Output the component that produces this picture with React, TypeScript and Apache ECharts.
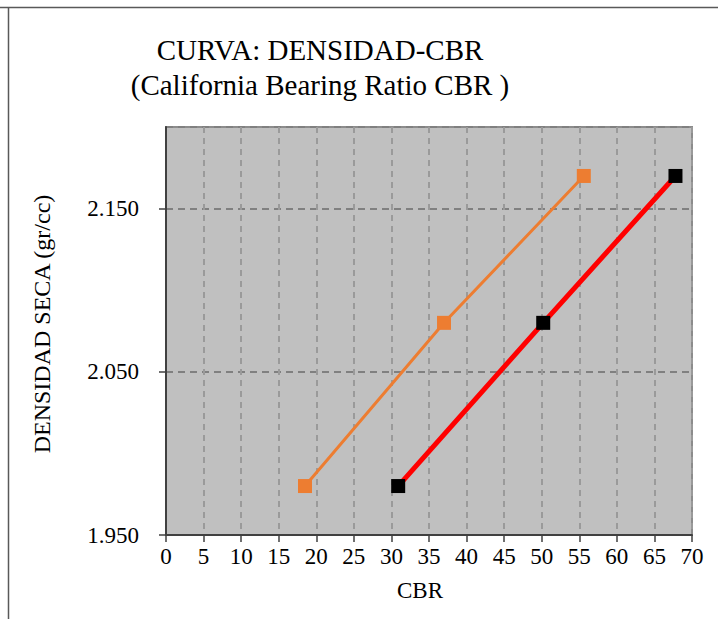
import React, { useEffect, useRef } from "react";
import * as echarts from "echarts";

const titleLine1 = "CURVA: DENSIDAD-CBR";
const titleLine2 = "(California Bearing Ratio CBR )";
const xName = "CBR";
const yName = "DENSIDAD SECA (gr/cc)";

const seriesA_cbr = [18.5, 37.0, 55.6];
const seriesA_dens = [1.98, 2.08, 2.17];
const seriesB_cbr = [30.9, 50.2, 67.8];
const seriesB_dens = [1.98, 2.08, 2.17];

const xMin = 0;
const xMax = 70;
const xStep = 5;
const yMin = 1.95;
const yMax = 2.2;
const yStep = 0.1;

export default function App() {
  const ref = useRef<HTMLDivElement>(null);
  useEffect(() => {
    if (!ref.current) return;
    const chart = echarts.init(ref.current, null, { renderer: "svg" });
    const font = "Liberation Serif";
    chart.setOption({
      animation: false,
      backgroundColor: "#ffffff",
      textStyle: { fontFamily: font },
      title: [
        {
          text: titleLine1 + "\n" + titleLine2,
          left: 315,
          top: 27,
          textAlign: "center",
          textStyle: {
            fontFamily: font,
            fontSize: 29,
            fontWeight: "normal",
            color: "#000",
            lineHeight: 35,
          },
        },
      ],
      graphic: [
        {
          type: "line",
          shape: { x1: 0, y1: 7.5, x2: 718, y2: 7.5 },
          style: { stroke: "#595959", lineWidth: 1.5 },
        },
        {
          type: "line",
          shape: { x1: 8.5, y1: 7.5, x2: 8.5, y2: 619 },
          style: { stroke: "#595959", lineWidth: 1.5 },
        },
      ],
      grid: {
        left: 166,
        top: 127,
        right: 26,
        bottom: 84,
        show: true,
        backgroundColor: "#c0c0c0",
        borderColor: "#8c8c8c",
        borderWidth: 2,
      },
      xAxis: {
        type: "value",
        min: xMin,
        max: xMax,
        interval: xStep,
        name: xName,
        nameLocation: "middle",
        nameGap: 44,
        nameTextStyle: {
          fontFamily: font,
          fontSize: 23,
          color: "#000",
          padding: [0, 18, 0, 0],
        },
        axisLine: { show: true, lineStyle: { color: "#404040", width: 2 } },
        axisTick: { show: true, length: 7, lineStyle: { color: "#404040", width: 1.5 } },
        axisLabel: { fontFamily: font, fontSize: 23, color: "#000", margin: 10 },
        splitLine: {
          show: true,
          lineStyle: { color: "#9a9a9a", width: 2, type: [6, 5] },
        },
      },
      yAxis: {
        type: "value",
        min: yMin,
        max: yMax,
        interval: yStep,
        name: yName,
        nameLocation: "middle",
        nameGap: 112,
        nameTextStyle: {
          fontFamily: font,
          fontSize: 24,
          color: "#000",
          padding: [0, 0, 0, 14],
        },
        axisLine: { show: true, lineStyle: { color: "#404040", width: 2 } },
        axisTick: { show: true, length: 7, lineStyle: { color: "#404040", width: 1.5 } },
        axisLabel: {
          fontFamily: font,
          fontSize: 23,
          color: "#000",
          margin: 27,
          showMaxLabel: false,
          formatter: (v: number) => v.toFixed(3),
        },
        splitLine: {
          show: true,
          lineStyle: { color: "#808080", width: 2, type: [7, 5] },
        },
      },
      series: [
        {
          type: "line",
          data: seriesA_cbr.map((x, i) => [x, seriesA_dens[i]]),
          symbol: "rect",
          symbolSize: 14,
          lineStyle: { color: "#ED7D31", width: 3 },
          itemStyle: { color: "#ED7D31" },
          z: 3,
        },
        {
          type: "line",
          data: seriesB_cbr.map((x, i) => [x, seriesB_dens[i]]),
          symbol: "rect",
          symbolSize: 14,
          lineStyle: { color: "#FF0000", width: 5 },
          itemStyle: { color: "#000000" },
          z: 4,
        },
      ],
    });
    return () => chart.dispose();
  }, []);
  return (
    <div
      ref={ref}
      style={{ position: "fixed", left: 0, top: 0, width: 718, height: 619 }}
    />
  );
}
